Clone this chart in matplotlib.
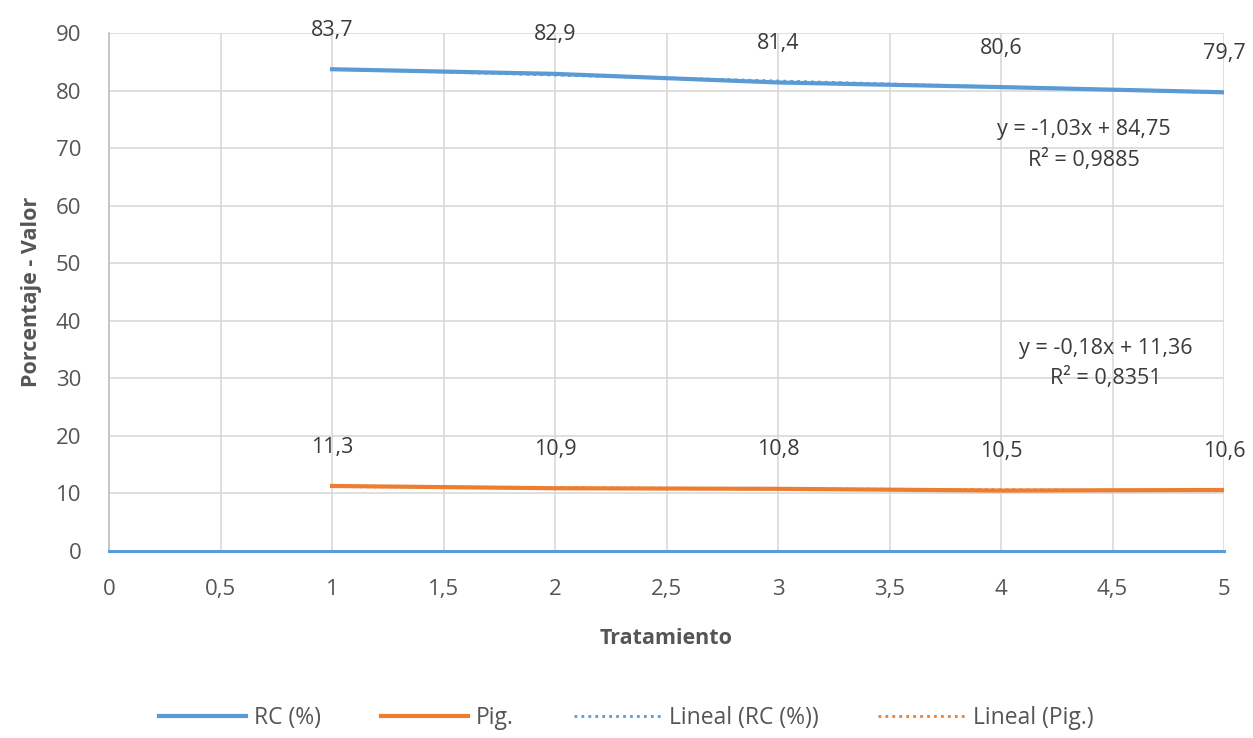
import matplotlib
matplotlib.use("Agg")
import matplotlib.pyplot as plt
import numpy as np

tratamiento = [1, 2, 3, 4, 5]
rc = [83.7, 82.9, 81.4, 80.6, 79.7]
pig = [11.3, 10.9, 10.8, 10.5, 10.6]
rc_label = ["83,7", "82,9", "81,4", "80,6", "79,7"]
pig_label = ["11,3", "10,9", "10,8", "10,5", "10,6"]
xticks = [0, 0.5, 1, 1.5, 2, 2.5, 3, 3.5, 4, 4.5, 5]
xtick_labels = ["0", "0,5", "1", "1,5", "2", "2,5", "3", "3,5", "4", "4,5", "5"]
yticks = [0, 10, 20, 30, 40, 50, 60, 70, 80, 90]

plt.rcParams['font.family'] = ['Open Sans', 'DejaVu Sans']
txt = '#3a3a3a'
lab = '#555555'
blue = '#5b9bd5'
orange = '#ed7d31'
fs = 15.5

fig = plt.figure(figsize=(12.53, 7.38), dpi=100)
ax = fig.add_axes([0.087, 0.2534, 0.8899, 0.7019])

x = np.array(tratamiento, dtype=float)
ax.plot(x, rc, color=blue, lw=3, label='RC (%)', zorder=3)
ax.plot(x, pig, color=orange, lw=3, label='Pig.', zorder=3)
c1 = np.polyfit(x, rc, 1)
c2 = np.polyfit(x, pig, 1)
ax.plot(x, np.polyval(c1, x), color=blue, lw=2, ls=(0, (1, 1.5)), label='Lineal (RC (%))', zorder=4)
ax.plot(x, np.polyval(c2, x), color=orange, lw=2, ls=(0, (1, 1.5)), label='Lineal (Pig.)', zorder=4)

for xi, yi, l in zip(x, rc, rc_label):
    ax.annotate(l, (xi, yi), xytext=(0, 28), textcoords='offset points',
                ha='center', va='center', fontsize=fs, color=txt, annotation_clip=False)
for xi, yi, l in zip(x, pig, pig_label):
    ax.annotate(l, (xi, yi), xytext=(0, 28), textcoords='offset points',
                ha='center', va='center', fontsize=fs, color=txt, annotation_clip=False)

ax.text(4.37, 70.5, "y = -1,03x + 84,75\nR² = 0,9885", ha='center', va='center',
        fontsize=fs, color=txt, linespacing=1.5)
ax.text(4.47, 32.6, "y = -0,18x + 11,36\nR² = 0,8351", ha='center', va='center',
        fontsize=fs, color=txt, linespacing=1.5)

ax.set_xlim(0, 5)
ax.set_ylim(0, 90)
ax.set_xticks(xticks)
ax.set_xticklabels(xtick_labels)
ax.set_yticks(yticks)
ax.grid(True, color='#d9d9d9', lw=1.2)
ax.set_axisbelow(True)
for s in ['top', 'right']:
    ax.spines[s].set_visible(False)
ax.spines['left'].set_color('#bfbfbf')
ax.spines['left'].set_linewidth(1.2)
ax.spines['bottom'].set_color(blue)
ax.spines['bottom'].set_linewidth(2.2)
ax.tick_params(axis='y', length=0, labelsize=fs + 0.5, labelcolor=lab, pad=20)
ax.tick_params(axis='x', length=0, labelsize=fs + 0.5, labelcolor=lab, pad=20)
ax.set_xlabel('Tratamiento', fontsize=fs, fontweight='bold', color=lab, labelpad=20)
ax.set_ylabel('Porcentaje - Valor', fontsize=fs, fontweight='bold', color=lab, labelpad=10)

leg = fig.legend(loc='center', bbox_to_anchor=(0.5, 0.027), ncol=4, frameon=False,
                 fontsize=16.5, handlelength=3.8, columnspacing=2.6, handletextpad=0.35)
for t in leg.get_texts():
    t.set_color(lab)

fig.savefig('out.png', dpi=100)
